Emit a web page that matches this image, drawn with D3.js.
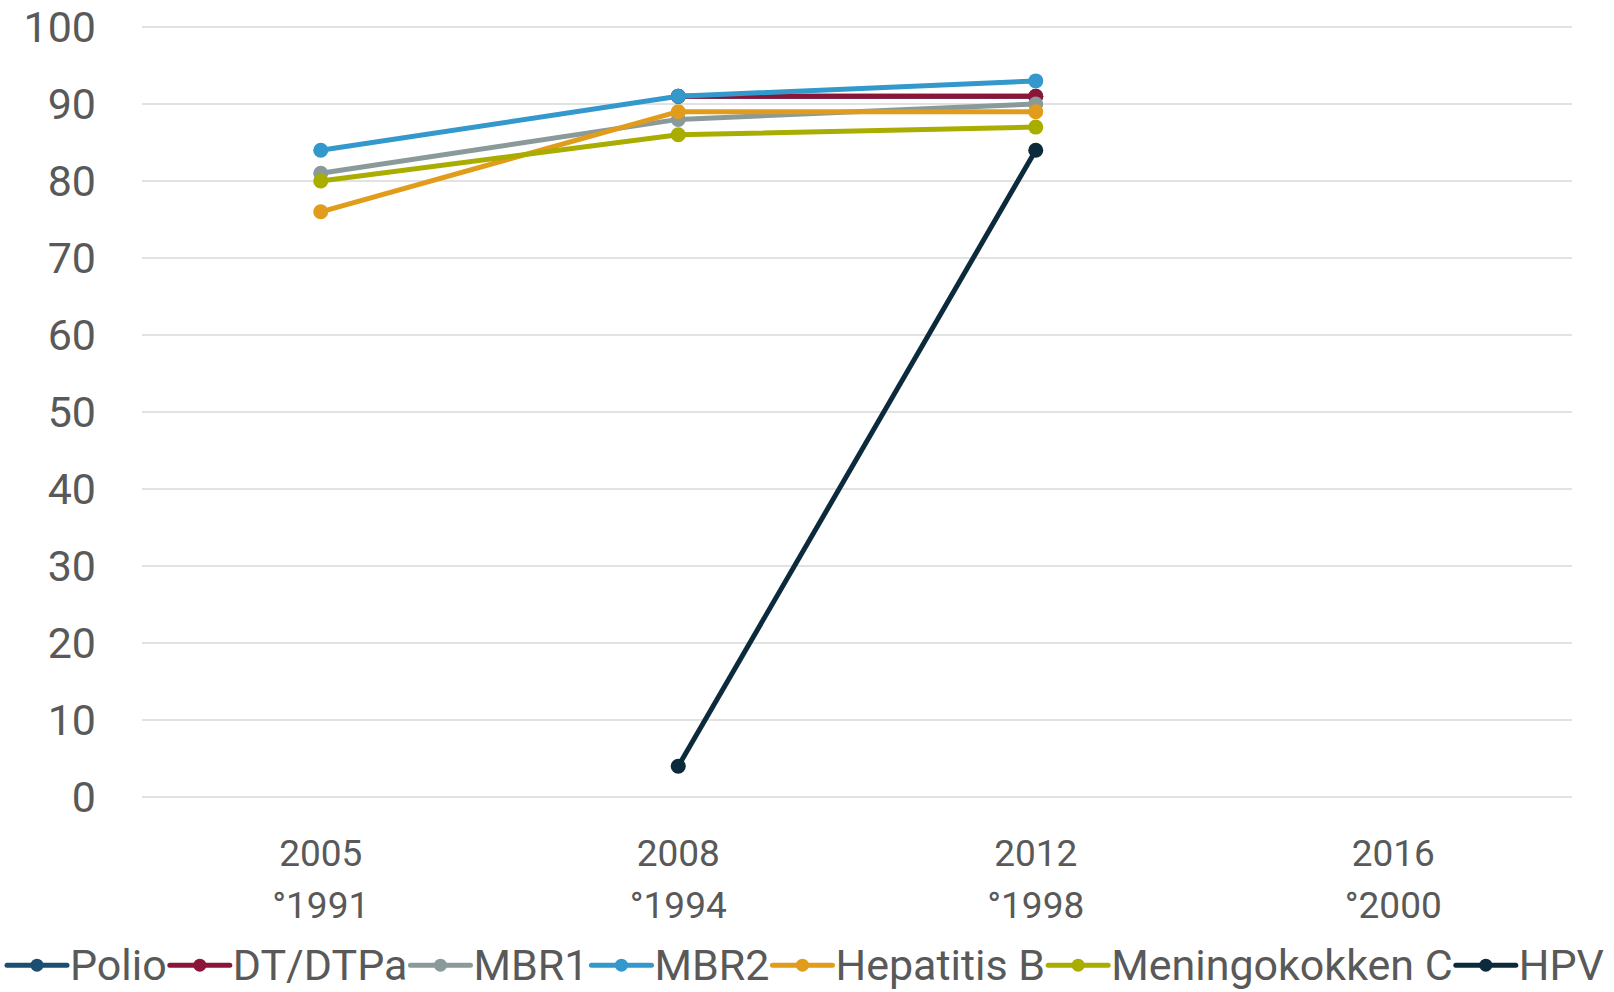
<!DOCTYPE html>
<html>
<head>
<meta charset="utf-8">
<script src="https://cdn.jsdelivr.net/npm/d3@7"></script>
<style>
  body { margin: 0; background: #fff; overflow: hidden; }
  svg text { font-family: Roboto, "Open Sans", sans-serif; fill: #595959; }
</style>
</head>
<body>
<script>
// categories: survey year + birth cohort
const years = ['2005', '2008', '2012', '2016'];
const cohorts = ['°1991', '°1994', '°1998', '°2000'];
const yTicks = [0, 10, 20, 30, 40, 50, 60, 70, 80, 90, 100];

const seriesNames = ['Polio', 'DT/DTPa', 'MBR1', 'MBR2', 'Hepatitis B', 'Meningokokken C', 'HPV'];
const seriesColors = ['#1b4f72', '#8b1538', '#8a9a9a', '#3399cc', '#e09c1a', '#a9ad00', '#0b2a3c'];

const polio = [null, 91, 91, null];
const dtDtpa = [null, 91, 91, null];
const mbr1 = [81, 88, 90, null];
const mbr2 = [84, 91, 93, null];
const hepatitisB = [76, 89, 89, null];
const meningokokkenC = [80, 86, 87, null];
const hpv = [null, 4, 84, null];

const allSeries = [polio, dtDtpa, mbr1, mbr2, hepatitisB, meningokokkenC, hpv];

const width = 1614, height = 992;
const margin = {top: 27, right: 42, bottom: 195, left: 142};

const svg = d3.select('body').append('svg')
  .attr('width', width)
  .attr('height', height);

const x = d3.scaleBand()
  .domain(years)
  .range([margin.left, width - margin.right]);

const y = d3.scaleLinear()
  .domain([0, 100])
  .range([height - margin.bottom, margin.top]);

// gridlines
svg.append('g')
  .selectAll('line')
  .data(yTicks)
  .enter()
  .append('line')
  .attr('x1', margin.left)
  .attr('x2', width - margin.right)
  .attr('y1', d => y(d))
  .attr('y2', d => y(d))
  .attr('stroke', '#d9d9d9')
  .attr('stroke-width', 1.5);

// y labels
svg.append('g')
  .selectAll('text')
  .data(yTicks)
  .enter()
  .append('text')
  .attr('x', 96)
  .attr('y', d => y(d))
  .attr('dy', '0.355em')
  .attr('text-anchor', 'end')
  .style('font-size', '43px')
  .text(d => d);

// x labels, two lines
const xl = svg.append('g')
  .selectAll('text')
  .data(years)
  .enter()
  .append('text')
  .attr('text-anchor', 'middle')
  .style('font-size', '37px');
xl.append('tspan')
  .attr('x', d => x(d) + x.bandwidth() / 2)
  .attr('y', 866)
  .text(d => d);
xl.append('tspan')
  .attr('x', d => x(d) + x.bandwidth() / 2)
  .attr('y', 918)
  .text((d, i) => cohorts[i]);

const line = d3.line()
  .defined(d => d != null)
  .x((d, i) => x(years[i]) + x.bandwidth() / 2)
  .y(d => y(d));

allSeries.forEach((vals, s) => {
  const g = svg.append('g');
  g.append('path')
    .datum(vals)
    .attr('fill', 'none')
    .attr('stroke', seriesColors[s])
    .attr('stroke-width', 5)
    .attr('stroke-linejoin', 'round')
    .attr('d', line);
  g.selectAll('circle')
    .data(vals.map((v, i) => ({v, i})).filter(d => d.v != null))
    .enter()
    .append('circle')
    .attr('cx', d => x(years[d.i]) + x.bandwidth() / 2)
    .attr('cy', d => y(d.v))
    .attr('r', 7.5)
    .attr('fill', seriesColors[s]);
});

// legend: fit the row to the reference's width
const symW = 60, gap = 3;
const legendW = 1600;
const legend = svg.append('g');
let fs = 40;
const items = seriesNames.map((name, i) => {
  const t = legend.append('text')
    .attr('dy', '0.355em')
    .style('font-size', fs + 'px')
    .text(name);
  return {t, w: t.node().getComputedTextLength(), color: seriesColors[i]};
});
const textW = d3.sum(items, d => d.w);
const k = (legendW - items.length * (symW + gap * 2)) / textW;
fs = fs * k;
items.forEach(it => { it.t.style('font-size', fs + 'px'); it.w = it.w * k; });
const legendY = Math.min(973, height - 0.6 * fs - 1);
let cx = (width - legendW) / 2;
items.forEach(it => {
  legend.append('line')
    .attr('x1', cx).attr('x2', cx + symW)
    .attr('y1', legendY).attr('y2', legendY)
    .attr('stroke', it.color).attr('stroke-width', 5)
    .attr('stroke-linecap', 'round');
  legend.append('circle')
    .attr('cx', cx + symW / 2).attr('cy', legendY)
    .attr('r', 6.5).attr('fill', it.color);
  it.t.attr('x', cx + symW + gap).attr('y', legendY);
  cx += symW + gap + it.w + gap;
});
</script>
</body>
</html>
